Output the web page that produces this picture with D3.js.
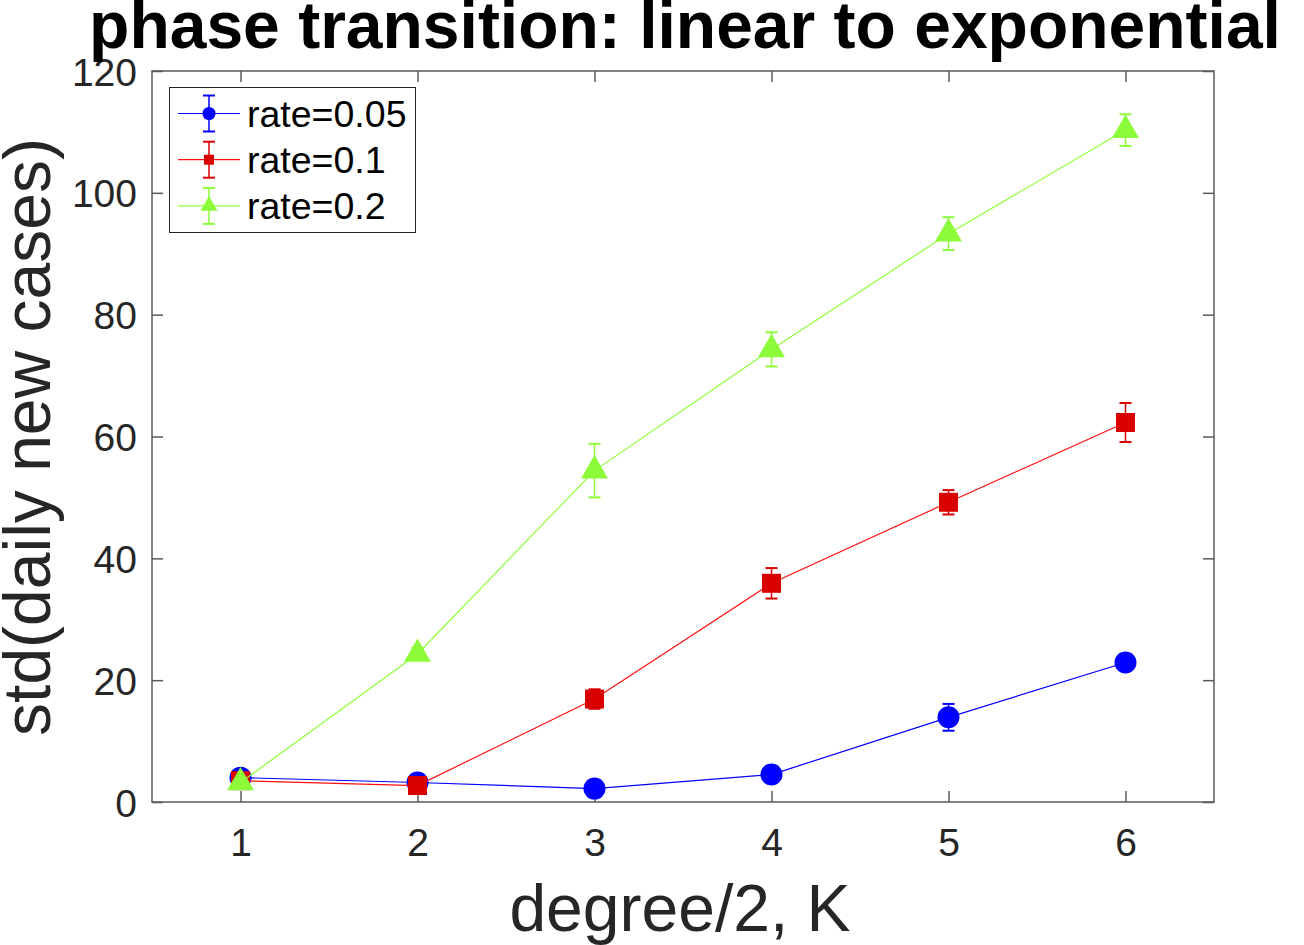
<!DOCTYPE html>
<html>
<head>
<meta charset="utf-8">
<title>phase transition: linear to exponential</title>
<script src="https://cdn.jsdelivr.net/npm/d3@7"></script>
<style>
  body { margin: 0; background: white; }
  text { font-family: "Liberation Sans", Arial, Helvetica, sans-serif; }
</style>
</head>
<body>
<div id="chart"></div>
<script>
// data
var degreeK = [1, 2, 3, 4, 5, 6];
var seriesNames = ["rate=0.05", "rate=0.1", "rate=0.2"];
var meanRate005 = [4.0, 3.2, 2.2, 4.5, 13.9, 22.9];
var errRate005 = [0.6, 0.5, 0.4, 0.8, 2.2, 1.0];
var meanRate01 = [3.5, 2.7, 16.9, 35.9, 49.2, 62.3];
var errRate01 = [0.5, 0.5, 1.6, 2.5, 2.0, 3.2];
var meanRate02 = [3.2, 24.3, 54.4, 74.3, 93.3, 110.3];
var errRate02 = [0.5, 1.0, 4.4, 2.8, 2.7, 2.6];
var yTicks = [0, 20, 40, 60, 80, 100, 120];
var xTicks = [1, 2, 3, 4, 5, 6];

var width = 1304, height = 945;
var plotLeft = 152, plotRight = 1214, plotTop = 71, plotBottom = 802;

// line colour, marker colour, marker shape
var series = [
  {name: seriesNames[0], mean: meanRate005, err: errRate005, line: "#0000ff", mark: "#0000ff", shape: d3.symbolCircle, size: 380, legSize: 135},
  {name: seriesNames[1], mean: meanRate01, err: errRate01, line: "#ff1010", mark: "#d90000", shape: d3.symbolSquare, size: 361, legSize: 100},
  {name: seriesNames[2], mean: meanRate02, err: errRate02, line: "#8fff3c", mark: "#8cfc3a", shape: d3.symbolTriangle, size: 315, legSize: 125}
];

var svg = d3.select("#chart").append("svg")
  .attr("width", width)
  .attr("height", height);

var x = d3.scaleLinear().domain([0.5, 6.5]).range([plotLeft, plotRight]);
var y = d3.scaleLinear().domain([0, 120]).range([plotBottom, plotTop]);

// box
svg.append("rect")
  .attr("x", plotLeft).attr("y", plotTop)
  .attr("width", plotRight - plotLeft).attr("height", plotBottom - plotTop)
  .style("fill", "white")
  .style("stroke", "#5a5a5a")
  .style("stroke-width", 1.5);

// axes, ticks pointing in, on all four sides
var axisColor = "#262626";
var xAxis = svg.append("g").attr("transform", "translate(0," + plotBottom + ")")
  .call(d3.axisBottom(x).tickValues(xTicks).tickSize(-11).tickPadding(26).tickFormat(d3.format("d")));
var xAxisTop = svg.append("g").attr("transform", "translate(0," + plotTop + ")")
  .call(d3.axisTop(x).tickValues(xTicks).tickSize(-11).tickFormat(""));
var yAxis = svg.append("g").attr("transform", "translate(" + plotLeft + ",0)")
  .call(d3.axisLeft(y).tickValues(yTicks).tickSize(-11).tickPadding(15));
var yAxisRight = svg.append("g").attr("transform", "translate(" + plotRight + ",0)")
  .call(d3.axisRight(y).tickValues(yTicks).tickSize(-11).tickFormat(""));

[xAxis, xAxisTop, yAxis, yAxisRight].forEach(function(a) {
  a.select(".domain").remove();
  a.selectAll(".tick line").style("stroke", "#5a5a5a").style("stroke-width", 1.5);
  a.selectAll("text").style("font-size", "39px").style("fill", axisColor);
});
xAxis.selectAll("text").attr("dy", "0.71em");
yAxis.selectAll("text").attr("dy", "0.36em");

// series: lines, error bars, markers
var lineGen = d3.line()
  .x(function(d) { return x(d.k); })
  .y(function(d) { return y(d.m); });

series.forEach(function(s) {
  var pts = degreeK.map(function(k, i) { return {k: k, m: s.mean[i], e: s.err[i]}; });
  var g = svg.append("g");

  g.append("path")
    .datum(pts)
    .attr("d", lineGen)
    .style("fill", "none")
    .style("stroke", s.line)
    .style("stroke-width", 1.2);

  var eb = g.selectAll(".eb").data(pts).enter().append("g");
  eb.append("line")
    .attr("x1", function(d) { return x(d.k); })
    .attr("x2", function(d) { return x(d.k); })
    .attr("y1", function(d) { return y(d.m - d.e); })
    .attr("y2", function(d) { return y(d.m + d.e); })
    .style("stroke", s.mark).style("stroke-width", 1.5);
  [-1, 1].forEach(function(sign) {
    eb.append("line")
      .attr("x1", function(d) { return x(d.k) - 6; })
      .attr("x2", function(d) { return x(d.k) + 6; })
      .attr("y1", function(d) { return y(d.m + sign * d.e); })
      .attr("y2", function(d) { return y(d.m + sign * d.e); })
      .style("stroke", s.mark).style("stroke-width", 2);
  });

  g.selectAll(".mk").data(pts).enter().append("path")
    .attr("transform", function(d) { return "translate(" + x(d.k) + "," + y(d.m) + ")"; })
    .attr("d", d3.symbol().type(s.shape).size(s.size))
    .style("fill", s.mark);
});

// legend
var legend = svg.append("g");
legend.append("rect")
  .attr("x", 169.5).attr("y", 87.5)
  .attr("width", 246).attr("height", 145)
  .style("fill", "white")
  .style("stroke", "#262626")
  .style("stroke-width", 1);

series.forEach(function(s, i) {
  var cy = 113.5 + i * 46.2;
  var row = legend.append("g");
  row.append("line")
    .attr("x1", 178).attr("x2", 240).attr("y1", cy).attr("y2", cy)
    .style("stroke", s.line).style("stroke-width", 1.2);
  row.append("line")
    .attr("x1", 209).attr("x2", 209).attr("y1", cy - 18).attr("y2", cy + 18)
    .style("stroke", s.mark).style("stroke-width", 1.5);
  [-18, 18].forEach(function(o) {
    row.append("line")
      .attr("x1", 203).attr("x2", 215).attr("y1", cy + o).attr("y2", cy + o)
      .style("stroke", s.mark).style("stroke-width", 2);
  });
  row.append("path")
    .attr("transform", "translate(209," + cy + ")")
    .attr("d", d3.symbol().type(s.shape).size(s.legSize))
    .style("fill", s.mark);
  row.append("text")
    .attr("x", 247).attr("y", cy)
    .attr("dy", "0.36em")
    .style("font-size", "37.5px")
    .style("fill", "black")
    .text(s.name);
});

// title and axis labels
svg.append("text")
  .attr("x", 685).attr("y", 48)
  .attr("text-anchor", "middle")
  .style("font-size", "66px")
  .style("font-weight", "bold")
  .style("fill", "black")
  .text("phase transition: linear to exponential");

svg.append("text")
  .attr("x", 680).attr("y", 931)
  .attr("text-anchor", "middle")
  .style("font-size", "66px")
  .style("fill", axisColor)
  .text("degree/2, K");

svg.append("text")
  .attr("transform", "translate(50,437) rotate(-90)")
  .attr("text-anchor", "middle")
  .style("font-size", "66px")
  .style("fill", axisColor)
  .text("std(daily new cases)");
</script>
</body>
</html>
